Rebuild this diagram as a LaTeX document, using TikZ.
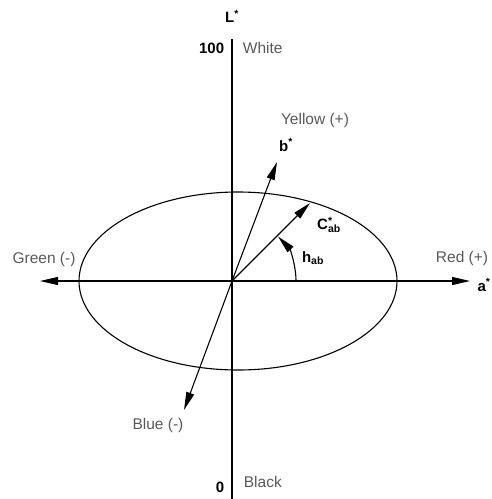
\documentclass[tikz,border=0pt]{standalone}
\usepackage{fontspec}
\setmainfont{Liberation Sans}
\usetikzlibrary{arrows.meta}

\begin{document}
\begin{tikzpicture}[x=1pt,y=-1pt, line width=1.1pt,
  tip/.style={-{Triangle[length=18pt,width=8pt]}},
  colname/.style={text=black!65, font=\fontsize{15.5}{18}\selectfont},
  sym/.style={font=\bfseries\fontsize{15}{18}\selectfont}]
\useasboundingbox (0,0) rectangle (492,499);
\coordinate (O) at (232,281) ;
\coordinate (T) at (232,39) ;
\coordinate (Bo) at (232,499) ;
\coordinate (L) at (40,281) ;
\coordinate (R) at (470,281) ;
\coordinate (B) at (277,162) ;
\coordinate (C) at (310,203) ;
\coordinate (Bl) at (184,410) ;
\coordinate (E) at (232,370) ;
\coordinate (M) at (238,281) ;
\coordinate (H) at (296,281) ;
% axes
\draw (T) -- (Bo) ;
\draw[tip] (O) -- (L) ;
\draw[tip] (O) -- (R) ;
\draw[dashed, dash pattern=on 8pt off 5pt] (O) -- (E) ;
\draw (M) ellipse [x radius=159, y radius=89] ;
% vectors
\draw[tip] (O) -- (B) ;
\draw[tip] (O) -- (C) ;
\draw[tip] (O) -- (Bl) ;
\draw[tip] (H) arc [start angle=0, end angle=-44, radius=64] ;
% labels
\node[sym] (lstar) at (232,16) {L\textsuperscript{*}};
\node[sym, anchor=east] (top) at (228,48) {100};
\node[colname, anchor=west] (white) at (239,48) {White};
\node[sym, anchor=east] (bot) at (228,487) {0};
\node[colname, anchor=west] (black) at (240,482) {Black};
\node[colname] (yellow) at (315,120) {Yellow (+)};
\node[sym] (bstar) at (286,145) {b\textsuperscript{*}};
\node[sym] (cab) at (329,225) {C\rlap{\textsuperscript{*}}\textsubscript{ab}};
\node[sym] (hab) at (313,258) {h\textsubscript{ab}};
\node[colname] (green) at (44,259) {Green (-)};
\node[colname] (red) at (462,258) {Red (+)};
\node[sym] (astar) at (484,285) {a\textsuperscript{*}};
\node[colname] (blue) at (158,425) {Blue (-)};
\end{tikzpicture}
\end{document}
